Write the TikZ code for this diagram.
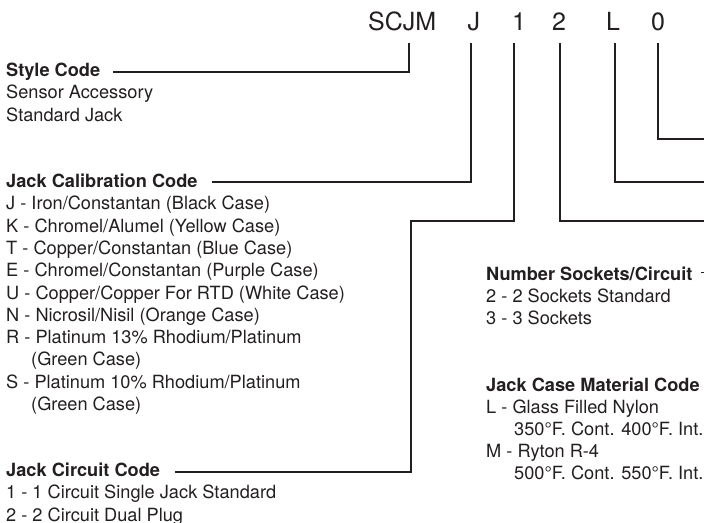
\documentclass[tikz,border=0pt]{standalone}
\usepackage{fontspec}
\setmainfont{TeX Gyre Heros}
\definecolor{ink}{RGB}{35,31,32}
\tikzset{
  txt/.style={anchor=base west,inner sep=0pt,text=ink,font=\fontsize{18.2}{22}\selectfont},
  hdr/.style={txt,font=\fontsize{18.2}{22}\selectfont\bfseries},
  code/.style={anchor=base west,inner sep=0pt,text=ink,font=\fontsize{25}{30}\selectfont},
  lead/.style={draw=ink,line width=1.4pt,line cap=butt,line join=miter}
}
\begin{document}
\begin{tikzpicture}[x=1pt,y=-1pt]
\useasboundingbox (0,0) rectangle (704,522);
\clip (0,0) rectangle (704,522);
% code letters
\node[code] (cSCJM) at (368,30.7) {SCJM};
\node[code] (cJ) at (467.5,30.7) {J};
\node[code] (c1) at (512,30.7) {1};
\node[code] (c2) at (552,30.7) {2};
\node[code] (cL) at (606,30.7) {L};
\node[code] (c0) at (651,30.7) {0};
% left column
\node[hdr] (style) at (6,76.5) {Style Code};
\node[txt] (style1) at (6,98.8) {Sensor Accessory};
\node[txt] (style2) at (6,121) {Standard Jack};
\node[hdr] (calib) at (6,187.5) {Jack Calibration Code};
\node[txt] (cal1) at (6,209.8) {J - Iron/Constantan (Black Case)};
\node[txt] (cal2) at (6,232.1) {K - Chromel/Alumel (Yellow Case)};
\node[txt] (cal3) at (6,254.4) {T - Copper/Constantan (Blue Case)};
\node[txt] (cal4) at (6,276.7) {E - Chromel/Constantan (Purple Case)};
\node[txt] (cal5) at (6,299) {U - Copper/Copper For RTD (White Case)};
\node[txt] (cal6) at (6,321.3) {N - Nicrosil/Nisil (Orange Case)};
\node[txt] (cal7) at (6,343.6) {R - Platinum 13\% Rhodium/Platinum};
\node[txt] (cal8) at (31,365.9) {(Green Case)};
\node[txt] (cal9) at (6,388.2) {S - Platinum 10\% Rhodium/Platinum};
\node[txt] (cal10) at (31,410.5) {(Green Case)};
\node[hdr] (circ) at (6,476.5) {Jack Circuit Code};
\node[txt] (circ1) at (6,498.8) {1 - 1 Circuit Single Jack Standard};
\node[txt] (circ2) at (6,521) {2 - 2 Circuit Dual Plug};
% right column
\node[hdr] (sock) at (486,280) {Number Sockets/Circuit};
\node[txt] (sock1) at (486,302) {2 - 2 Sockets Standard};
\node[txt] (sock2) at (486,324) {3 - 3 Sockets};
\node[hdr] (mat) at (486,391) {Jack Case Material Code};
\node[txt] (mat1) at (486,413) {L - Glass Filled Nylon};
\node[txt] (mat2) at (514,435) {350°F. Cont. 400°F. Int.};
\node[txt] (mat3) at (486,457) {M - Ryton R-4};
\node[txt] (mat4) at (514,479) {500°F. Cont. 550°F. Int.};
% connector coordinates
\coordinate (tSCJM) at (409,43);
\coordinate (tJ) at (471,43);
\coordinate (t1) at (514,43);
\coordinate (t2) at (560,43);
\coordinate (tL) at (615,43);
\coordinate (t0) at (658,43);
\coordinate (eStyle) at (113,72);
\coordinate (eCalib) at (212,182);
\coordinate (b1a) at (514,221);
\coordinate (b1b) at (411,221);
\coordinate (b1c) at (411,472);
\coordinate (eCirc) at (175,472);
\coordinate (e2) at (710,221);
\coordinate (eL) at (710,182);
\coordinate (e0) at (710,139);
\coordinate (sSock) at (701,272.5);
\coordinate (eSock) at (710,272.5);
% connectors
\draw[lead] (tSCJM) |- (eStyle);
\draw[lead] (tJ) |- (eCalib);
\draw[lead] (t1) -- (b1a) -- (b1b) -- (b1c) -- (eCirc);
\draw[lead] (t2) |- (e2);
\draw[lead] (tL) |- (eL);
\draw[lead] (t0) |- (e0);
\draw[lead] (sSock) -- (eSock);
\end{tikzpicture}
\end{document}
